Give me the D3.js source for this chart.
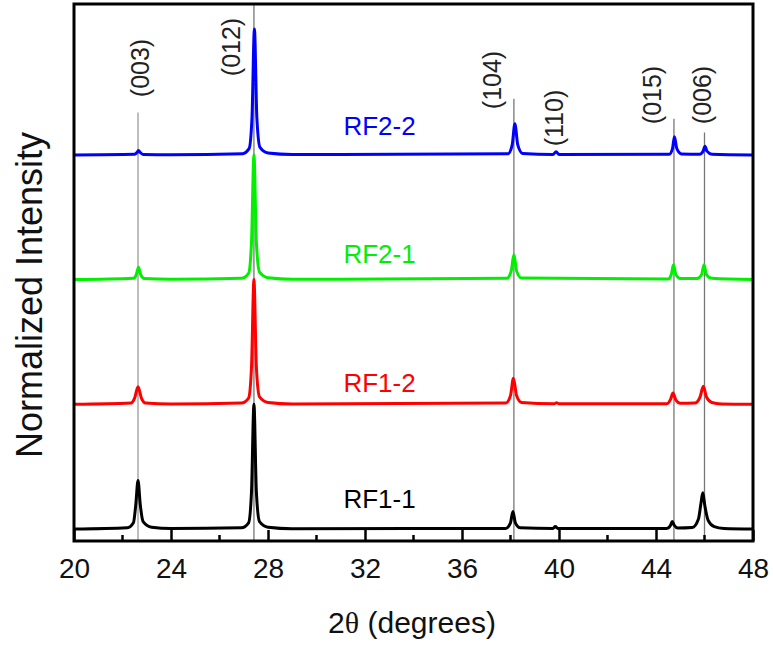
<!DOCTYPE html>
<html>
<head>
<meta charset="utf-8">
<script src="https://cdn.jsdelivr.net/npm/d3@7/dist/d3.min.js"></script>
<style>
  body { margin: 0; background: #fff; }
  text { font-family: "Liberation Sans", Arial, sans-serif; }
</style>
</head>
<body>
<div id="chart"></div>
<script>
// reflections (hkl), their 2theta positions and how high the guide line reaches (stacked units)
var hkl = ["(003)", "(012)", "(104)", "(110)", "(015)", "(006)"];
var peakPos = [22.64, 27.42, 38.14, 39.9, 44.74, 46.0];
var guideTop = [3.34, 4.21, 3.45, null, 3.29, 3.18];

var seriesNames = ["RF1-1", "RF1-2", "RF2-1", "RF2-2"];
var seriesOffset = [0, 1, 2, 3];

// normalized intensity points [2theta, I]
var rf11 = [[20,0],[22.2,0.01],[22.45,0.05],[22.55,0.2],[22.64,0.39],[22.73,0.2],[22.85,0.06],[23.2,0.015],[24,0.004],
  [26.9,0.01],[27.2,0.05],[27.32,0.3],[27.42,1.0],[27.52,0.3],[27.65,0.06],[28.0,0.015],[29,0.003],
  [37.8,0.005],[38.0,0.05],[38.1,0.14],[38.2,0.05],[38.4,0.01],[39.75,0.005],[39.85,0.02],[39.95,0.005],
  [44.45,0.005],[44.6,0.03],[44.67,0.06],[44.75,0.03],[44.9,0.008],[45.5,0.012],[45.75,0.08],[45.85,0.2],
  [45.93,0.29],[46.02,0.18],[46.15,0.07],[46.4,0.02],[46.8,0.005],[48,0]];
var rf12 = [[20,0],[22.35,0.01],[22.5,0.05],[22.64,0.14],[22.78,0.05],[22.95,0.01],[24,0.002],
  [26.9,0.01],[27.2,0.05],[27.32,0.3],[27.42,1.0],[27.52,0.3],[27.65,0.06],[28.0,0.015],[29,0.003],
  [37.8,0.01],[38.0,0.07],[38.12,0.21],[38.25,0.07],[38.45,0.015],[39.8,0.005],[39.9,0.012],[40.0,0.005],
  [44.45,0.005],[44.6,0.04],[44.7,0.09],[44.82,0.035],[45.0,0.008],[45.6,0.01],[45.82,0.06],[45.95,0.145],
  [46.08,0.06],[46.3,0.015],[46.7,0.003],[48,0]];
var rf21 = [[20,0],[22.45,0.01],[22.57,0.04],[22.66,0.10],[22.75,0.04],[22.9,0.008],[24,0.002],
  [26.9,0.01],[27.2,0.05],[27.32,0.3],[27.42,1.0],[27.52,0.3],[27.65,0.06],[28.0,0.015],[29,0.003],
  [37.85,0.01],[38.03,0.07],[38.14,0.20],[38.25,0.07],[38.45,0.012],
  [44.5,0.005],[44.63,0.04],[44.72,0.12],[44.82,0.04],[45.0,0.008],[45.7,0.008],[45.88,0.04],[45.98,0.12],
  [46.08,0.04],[46.3,0.01],[48,0]];
var rf22 = [[20,0],[22.5,0.005],[22.6,0.02],[22.66,0.035],[22.73,0.02],[22.85,0.004],[24,0.001],
  [26.95,0.01],[27.22,0.05],[27.34,0.3],[27.44,1.01],[27.54,0.3],[27.67,0.06],[28.0,0.015],[29,0.003],
  [37.9,0.01],[38.07,0.08],[38.18,0.25],[38.3,0.08],[38.5,0.012],[39.75,0.004],[39.88,0.025],[40.0,0.004],
  [44.55,0.006],[44.68,0.05],[44.76,0.145],[44.86,0.05],[45.05,0.008],[45.8,0.006],[45.94,0.03],[46.02,0.07],
  [46.1,0.03],[46.3,0.006],[48,0]];
var seriesData = [rf11, rf12, rf21, rf22];

var xTicks = [20, 24, 28, 32, 36, 40, 44, 48];
var xMinor = [22, 26, 30, 34, 38, 42, 46];

// styling / layout
var colors = ["#000000", "#ff0000", "#00f000", "#0000ff"];
var labelGap = [21, 12, 17, 20];          // px above each baseline for series names
var hklDx = [2, -23, -22, -3, -22, -3];   // px shift of hkl labels from their line
var hklY = [68, 47, 80, 118, 95, 95];     // px centre of hkl labels

var width = 773, height = 645;
var margin = {top: 4, right: 20, bottom: 104, left: 74};

var x = d3.scaleLinear().domain([20, 48]).range([margin.left, width - margin.right]);
var y = d3.scaleLinear().domain([-0.096, 4.21]).range([height - margin.bottom, margin.top]);

var svg = d3.select("#chart").append("svg")
  .attr("width", width)
  .attr("height", height);

// guide lines at reflections
svg.append("g")
  .selectAll("line")
  .data(peakPos.map(function(p, i){ return {p: p, top: guideTop[i], i: i}; }).filter(function(d){ return d.top != null; }))
  .enter()
  .append("line")
  .attr("x1", d => x(d.p))
  .attr("x2", d => x(d.p))
  .attr("y1", d => y(d.top))
  .attr("y2", y(-0.096))
  .attr("stroke", d => d.i == 0 ? "#bdbdbd" : "#777")
  .attr("stroke-width", d => d.i == 0 ? 2 : 1.3);

var line = d3.line()
  .x(d => x(d[0]))
  .curve(d3.curveMonotoneX);

svg.append("g")
  .selectAll("path")
  .data(seriesData)
  .enter()
  .append("path")
  .attr("fill", "none")
  .attr("stroke", (d, i) => colors[i])
  .attr("stroke-width", 3)
  .attr("stroke-linejoin", "round")
  .attr("d", function(d, i){
    return line.y(p => y(p[1] + seriesOffset[i]))(d);
  });

// series names
svg.append("g")
  .selectAll("text")
  .data(seriesNames)
  .enter()
  .append("text")
  .attr("x", x(32.6))
  .attr("y", (d, i) => y(seriesOffset[i]) - labelGap[i])
  .attr("text-anchor", "middle")
  .attr("font-size", 26)
  .attr("fill", (d, i) => colors[i])
  .text(d => d);

// hkl labels
svg.append("g")
  .selectAll("text")
  .data(hkl)
  .enter()
  .append("text")
  .attr("transform", (d, i) => "translate(" + (x(peakPos[i]) + hklDx[i]) + "," + hklY[i] + ") rotate(-90)")
  .attr("text-anchor", "middle")
  .attr("dominant-baseline", "central")
  .attr("font-size", 25)
  .attr("fill", "#222")
  .text(d => d);

// x axis with inward ticks
var axis = svg.append("g")
  .attr("transform", "translate(0," + (height - margin.bottom) + ")")
  .call(d3.axisBottom(x).tickValues(xTicks).tickSize(-11).tickPadding(17).tickFormat(d3.format("d")));
axis.select(".domain").remove();
axis.selectAll(".tick line").attr("stroke-width", 2.5).attr("stroke", "#000");
axis.selectAll("text").attr("font-size", 28).attr("fill", "#111").attr("font-family", "Liberation Sans, Arial, sans-serif");

svg.append("g")
  .selectAll("line")
  .data(xMinor)
  .enter()
  .append("line")
  .attr("x1", d => x(d))
  .attr("x2", d => x(d))
  .attr("y1", height - margin.bottom)
  .attr("y2", height - margin.bottom - 6)
  .attr("stroke", "#000")
  .attr("stroke-width", 2.5);

// frame
svg.append("rect")
  .attr("x", margin.left)
  .attr("y", margin.top)
  .attr("width", width - margin.left - margin.right)
  .attr("height", height - margin.top - margin.bottom)
  .attr("fill", "none")
  .attr("stroke", "#000")
  .attr("stroke-width", 3);

// axis titles
svg.append("text")
  .attr("transform", "translate(42,295) rotate(-90)")
  .attr("text-anchor", "middle")
  .attr("font-size", 36)
  .attr("fill", "#111")
  .text("Normalized Intensity");

var xt = svg.append("text")
  .attr("x", 412)
  .attr("y", 633)
  .attr("text-anchor", "middle")
  .attr("font-size", 30)
  .attr("fill", "#111");
xt.append("tspan").text("2");
xt.append("tspan").attr("font-family", "Liberation Serif, serif").text("\u03b8");
xt.append("tspan").text(" (degrees)");
</script>
</body>
</html>
